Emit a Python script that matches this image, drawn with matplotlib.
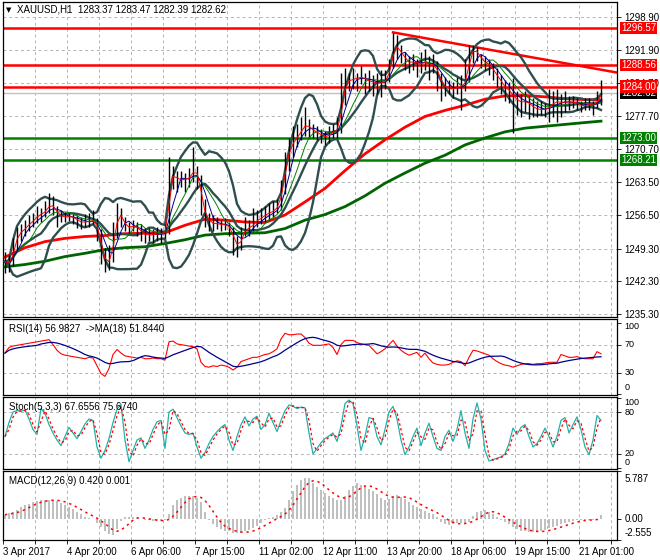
import numpy as np
import pandas as pd
import matplotlib
matplotlib.use('Agg')
import matplotlib.pyplot as plt
import matplotlib.transforms as mtransforms

plt.rcParams['font.family'] = ['Liberation Sans', 'DejaVu Sans']
plt.rcParams['font.size'] = 7

# ---- data (one entry ~ 2 bars) ----
close = [1246.5, 1245.8, 1250.0, 1252.5, 1253.0, 1254.0, 1254.8, 1255.5, 1256.5, 1256.8,
         1257.5, 1259.0, 1258.0, 1256.5, 1256.2, 1256.0, 1256.3, 1255.8, 1255.3, 1254.8,
         1255.2, 1255.0, 1255.5, 1253.0, 1248.5, 1246.0, 1247.0, 1252.0, 1257.5, 1255.5,
         1254.0, 1253.8, 1254.3, 1253.5, 1252.8, 1252.0, 1252.5, 1252.0, 1252.8, 1252.3,
         1253.0, 1264.0, 1265.5, 1263.5, 1264.5, 1263.8, 1265.0, 1266.0, 1265.0, 1258.5,
         1256.0, 1255.0, 1254.5, 1254.8, 1254.2, 1254.6, 1253.5, 1251.0, 1249.5, 1252.0,
         1254.0, 1253.5, 1255.0, 1255.5, 1256.0, 1256.8, 1257.0, 1257.5, 1258.5, 1262.0,
         1268.0, 1271.0, 1272.5, 1273.5, 1275.0, 1276.0, 1275.0, 1274.5, 1274.0, 1273.5,
         1273.0, 1274.0, 1274.5, 1275.0, 1281.0, 1285.5, 1285.0, 1286.0, 1285.5, 1286.5,
         1285.0, 1285.5, 1284.5, 1285.0, 1284.5, 1285.5, 1288.0, 1293.0, 1292.0, 1291.0,
         1289.5, 1289.0, 1289.5, 1288.8, 1289.0, 1289.3, 1288.5, 1289.0, 1286.5, 1284.5,
         1283.5, 1284.0, 1283.0, 1284.5, 1283.5, 1286.0, 1291.0, 1292.0, 1291.0, 1289.5,
         1289.0, 1288.5, 1287.0, 1286.0, 1284.5, 1283.5, 1283.0, 1281.5, 1281.0, 1280.5,
         1281.0, 1280.0, 1279.5, 1279.0, 1279.2, 1279.0, 1280.0, 1280.5, 1281.0, 1280.3,
         1281.0, 1280.5, 1280.8, 1280.2, 1279.8, 1280.0, 1280.3, 1279.8, 1281.5, 1282.62]
high = [1248.5, 1248.0, 1251.5, 1254.0, 1254.5, 1255.5, 1256.5, 1257.0, 1258.5, 1258.0,
        1259.5, 1261.2, 1260.5, 1258.5, 1257.5, 1257.2, 1257.0, 1256.8, 1256.5, 1256.0,
        1256.8, 1257.0, 1257.5, 1255.8, 1253.5, 1249.5, 1250.0, 1255.0, 1259.0, 1258.0,
        1256.0, 1255.0, 1255.5, 1255.0, 1254.5, 1253.8, 1253.8, 1253.5, 1254.0, 1253.8,
        1254.5, 1268.9, 1267.0, 1266.0, 1266.0, 1265.5, 1266.5, 1271.0, 1267.0, 1265.0,
        1260.0, 1257.0, 1256.5, 1256.0, 1255.5, 1255.8, 1255.0, 1254.0, 1252.0, 1254.0,
        1256.0, 1255.5, 1258.0, 1257.5, 1258.0, 1258.5, 1259.0, 1259.5, 1260.0, 1264.0,
        1270.0, 1273.0, 1275.5, 1276.0, 1277.5, 1279.6, 1277.0, 1276.0, 1275.5, 1275.0,
        1274.5, 1275.5, 1276.0, 1277.5, 1286.9, 1288.0, 1287.0, 1288.0, 1287.0, 1288.5,
        1287.0, 1287.5, 1286.5, 1287.0, 1287.5, 1287.5, 1290.0, 1295.5, 1295.0, 1293.0,
        1291.5, 1290.5, 1291.0, 1290.0, 1291.5, 1292.0, 1290.5, 1291.0, 1289.5, 1287.0,
        1286.0, 1285.5, 1285.0, 1286.0, 1286.5, 1290.0, 1292.9, 1292.8, 1292.5, 1291.0,
        1290.5, 1290.0, 1289.0, 1288.0, 1286.5, 1285.5, 1285.0, 1285.8, 1283.0, 1282.5,
        1283.0, 1282.0, 1281.5, 1281.0, 1281.0, 1280.5, 1283.5, 1283.0, 1283.5, 1282.5,
        1283.0, 1282.0, 1282.0, 1281.5, 1281.0, 1281.5, 1281.5, 1281.0, 1283.0, 1285.4]
low = [1244.0, 1244.2, 1245.5, 1249.0, 1251.0, 1252.0, 1253.0, 1254.0, 1254.8, 1255.0,
       1256.0, 1257.0, 1256.5, 1254.0, 1255.0, 1255.0, 1255.2, 1254.5, 1253.8, 1253.5,
       1254.0, 1254.0, 1254.5, 1251.0, 1246.0, 1244.3, 1244.8, 1246.5, 1251.5, 1254.0,
       1253.0, 1252.5, 1253.0, 1252.0, 1251.0, 1250.5, 1251.0, 1250.5, 1251.0, 1250.5,
       1251.5, 1252.5, 1262.0, 1261.5, 1262.5, 1261.5, 1262.5, 1263.5, 1262.0, 1256.5,
       1254.0, 1253.0, 1253.0, 1253.5, 1253.0, 1253.2, 1252.0, 1248.0, 1247.5, 1249.0,
       1252.0, 1252.0, 1253.0, 1254.0, 1254.5, 1255.0, 1255.5, 1256.0, 1257.0, 1257.5,
       1261.0, 1266.0, 1269.0, 1271.0, 1272.5, 1273.5, 1273.0, 1273.0, 1272.5, 1272.0,
       1271.5, 1272.0, 1273.0, 1273.0, 1274.0, 1280.0, 1283.0, 1283.5, 1283.0, 1284.5,
       1282.5, 1283.0, 1282.0, 1282.5, 1281.8, 1283.5, 1285.0, 1288.0, 1290.0, 1289.0,
       1287.5, 1287.0, 1287.5, 1286.0, 1287.0, 1287.5, 1285.5, 1287.0, 1283.0, 1281.0,
       1282.0, 1282.5, 1281.5, 1282.5, 1279.0, 1283.0, 1285.0, 1289.0, 1289.5, 1288.0,
       1287.5, 1286.5, 1285.5, 1284.0, 1282.5, 1281.0, 1280.5, 1274.1, 1278.0, 1277.5,
       1278.5, 1277.0, 1277.5, 1277.5, 1278.0, 1277.5, 1276.5, 1277.5, 1276.5, 1277.5,
       1278.5, 1279.0, 1279.5, 1279.0, 1278.5, 1279.0, 1279.0, 1278.0, 1279.5, 1280.0]

# slow moving averages, sampled every 5 entries
slow_idx = [0, 5, 10, 15, 20, 25, 30, 35, 40, 45, 50, 55, 60, 65, 70, 75,
            80, 85, 90, 95, 100, 105, 110, 115, 120, 125, 130, 135, 140, 145, 149]
ma_red_slow = [1247.5, 1249.5, 1250.8, 1251.5, 1251.9, 1252.1, 1252.5, 1252.6, 1252.7,
               1254.3, 1255.6, 1255.4, 1255.0, 1254.9, 1256.5, 1259.3, 1262.2, 1266.0,
               1269.6, 1272.6, 1275.3, 1277.6, 1278.9, 1280.0, 1281.3, 1282.0, 1282.1,
               1281.8, 1281.4, 1281.2, 1281.1]
ma_green_slow = [1245.4, 1245.9, 1246.6, 1247.6, 1248.3, 1249.1, 1249.5, 1249.7, 1250.4,
                 1251.2, 1252.2, 1252.5, 1252.6, 1252.7, 1253.6, 1255.4, 1256.6, 1258.3,
                 1260.6, 1263.3, 1265.5, 1267.6, 1269.3, 1271.5, 1273.0, 1274.3, 1275.1,
                 1275.5, 1275.9, 1276.3, 1276.6]

rsi = [58, 66, 68, 69, 70, 71, 72, 73, 74, 75, 76, 77, 70, 62, 57, 55, 54, 53, 52, 51,
       50, 52, 51, 40, 29, 25, 36, 56, 63, 58, 54, 53, 52, 51, 52, 50, 50, 51, 50, 50,
       48, 74, 75, 71, 70, 69, 68, 67, 64, 45, 39, 38, 40, 39, 41, 40, 38, 34, 38, 46,
       48, 50, 52, 52, 54, 56, 57, 60, 64, 78, 86, 84, 84, 85, 85, 80, 72, 69, 69, 69,
       70, 71, 66, 56, 70, 76, 76, 76, 73, 71, 70, 69, 63, 57, 60, 64, 70, 76, 68, 62,
       58, 55, 57, 59, 52, 58, 50, 44, 42, 41, 41, 42, 45, 47, 46, 40, 52, 62, 61, 59,
       57, 55, 50, 46, 43, 41, 40, 38, 40, 42, 43, 43, 42, 43, 43, 44, 45, 45, 45, 56,
       54, 52, 52, 53, 51, 50, 50, 50, 60, 57]

stoch_k = [45, 65, 80, 82, 81, 83, 70, 55, 48, 85, 78, 62, 50, 40, 32, 45, 58, 50, 42, 52,
           63, 70, 68, 30, 14, 25, 42, 65, 84, 91, 40, 9, 25, 40, 43, 28, 40, 55, 66, 68,
           28, 80, 84, 72, 60, 50, 48, 50, 30, 14, 22, 35, 45, 52, 58, 62, 40, 25, 45, 62,
           73, 60, 70, 74, 55, 62, 78, 65, 52, 68, 82, 90, 88, 85, 87, 86, 50, 20, 28, 36,
           42, 46, 50, 38, 60, 92, 97, 92, 60, 25, 45, 72, 70, 45, 33, 55, 80, 88, 70, 40,
           19, 30, 45, 57, 32, 50, 64, 45, 28, 25, 45, 54, 38, 55, 82, 50, 28, 70, 93, 70,
           25, 10, 12, 14, 16, 20, 35, 57, 48, 58, 62, 45, 30, 35, 45, 57, 45, 30, 45, 68,
           72, 50, 62, 73, 55, 30, 19, 40, 75, 68]

macd = [0.5, 0.66, 0.83, 1.08, 1.41, 1.66, 1.83, 2.08, 2.16, 2.24, 2.28, 2.32, 2.24, 2.16,
        1.91, 1.66, 1.41, 1.16, 0.83, 0.58, 0.25, 0.08, 0.0, -0.5, -1.0, -1.49, -1.83, -1.91,
        -1.25, -0.25, 0.25, 0.25, 0.17, 0.08, 0.0, -0.08, -0.17, -0.25, -0.25, -0.25, -0.17,
        0.58, 1.66, 2.32, 2.57, 2.74, 2.82, 2.82, 2.57, 1.99, 0.83, -0.08, -0.66, -1.0, -1.25,
        -1.41, -1.49, -1.66, -1.74, -1.66, -1.49, -1.33, -1.16, -0.83, -0.5, -0.17, 0.08, 0.25,
        0.42, 0.83, 1.33, 2.32, 3.32, 4.15, 4.65, 4.98, 4.9, 4.32, 3.9, 3.49, 3.07, 2.74, 2.49,
        2.24, 2.32, 2.82, 3.49, 3.98, 4.32, 4.15, 3.9, 3.65, 3.32, 2.99, 2.57, 2.32, 2.41, 2.82,
        2.91, 2.66, 2.41, 1.99, 1.66, 1.41, 1.16, 1.0, 0.75, 0.58, 0.25, -0.33, -0.66, -0.75,
        -0.58, -0.5, -0.5, -0.5, -0.33, 0.33, 0.83, 1.0, 1.08, 0.83, 0.58, 0.17, -0.17, -0.42,
        -0.66, -1.0, -1.25, -1.41, -1.49, -1.58, -1.58, -1.54, -1.45, -1.33, -1.16, -1.0, -0.83,
        -0.66, -0.5, -0.37, -0.25, -0.17, -0.12, -0.12, -0.12, -0.08, 0.0, 0.42]

trend_idx = [97, 153]
trend_price = [1295.6, 1287.0]
red_levels = [1296.57, 1288.56, 1284.00]
green_levels = [1273.00, 1268.21]
last_price = 1282.62
price_ticks = [1298.90, 1291.90, 1284.70, 1277.70, 1270.70, 1263.50, 1256.50, 1249.30, 1242.30, 1235.30]
date_labels = ['3 Apr 2017', '4 Apr 20:00', '6 Apr 06:00', '7 Apr 15:00', '11 Apr 02:00',
               '12 Apr 11:00', '13 Apr 20:00', '18 Apr 06:00', '19 Apr 15:00', '21 Apr 01:00']

# ---- indicators from the price series ----
s = pd.Series(close)
ma_fast_red = s.rolling(2, min_periods=1).mean()
ma_fast_blue = s.rolling(4, min_periods=1).mean()
ma_fast_green = s.rolling(7, min_periods=1).mean()
bb_mid = s.rolling(10, min_periods=1).mean()
bb_std = s.rolling(10, min_periods=1).std(ddof=0)
bb_up = bb_mid + 2 * bb_std
bb_lo = bb_mid - 2 * bb_std
rsi_ma = pd.Series(rsi).rolling(9, min_periods=1).mean()
stoch_d = pd.Series(stoch_k).rolling(2, min_periods=1).mean()
macd_sig = pd.Series(macd).rolling(5, min_periods=1).mean()

idx = np.arange(len(close))
grid_x = np.arange(-0.4, 153, 8)

W, H = 660, 560
fig = plt.figure(figsize=(W / 100, H / 100), dpi=100)
fig.patch.set_facecolor('white')


def panel(top, bottom):
    a = fig.add_axes([3 / W, (H - bottom) / H, 614 / W, (bottom - top) / H])
    a.set_xlim(-0.5, 153)
    for sp in a.spines.values():
        sp.set_color('black')
        sp.set_linewidth(0.9)
    a.yaxis.tick_right()
    a.tick_params(axis='y', length=3, width=0.6, pad=2, labelsize=7)
    a.tick_params(axis='x', length=0, labelbottom=False)
    for g in grid_x:
        a.axvline(g, color='#b4b4b4', ls=(0, (3, 3)), lw=0.7, zorder=0)
    return a


gray = '#b4b4b4'
slate = '#2f4f4f'

# ---- main price panel ----
ax = panel(2, 317)
ax.set_ylim(1234.66, 1302.11)
ax.set_yticks(price_ticks)
ax.set_yticklabels(['%.2f' % v for v in price_ticks])
for v in price_ticks:
    ax.axhline(v, color=gray, ls=(0, (3, 3)), lw=0.7, zorder=0)
ax.axhline(last_price, color='#c0c0c0', lw=1.0, zorder=1)
for v in red_levels:
    ax.axhline(v, color='#ff0000', lw=1.8, zorder=2)
for v in green_levels:
    ax.axhline(v, color='#008000', lw=1.8, zorder=2)
ax.plot(trend_idx, trend_price, color='#ff0000', lw=1.8, zorder=2)

ax.plot(slow_idx, ma_green_slow, color='#006400', lw=2.0, zorder=3)
ax.plot(slow_idx, ma_red_slow, color='#ff0000', lw=2.0, zorder=3)
for band in (bb_up, bb_mid, bb_lo):
    ax.plot(idx, band, color=slate, lw=1.7, zorder=3)
ax.vlines(idx, low, high, color='black', lw=1.0, zorder=4)
ax.plot(idx, ma_fast_green, color='#008000', lw=0.7, zorder=5)
ax.plot(idx, ma_fast_blue, color='#00008b', lw=0.7, zorder=5)
ax.plot(idx, ma_fast_red, color='#ff0000', lw=0.7, zorder=5)

# price tags on the right scale (figure level so they sit above the tick labels)
tr = mtransforms.blended_transform_factory(fig.transFigure, ax.transData)
boxes = [(last_price, '#000000'), (1296.57, '#ff0000'), (1288.56, '#ff0000'), (1284.00, '#ff0000'),
         (1273.00, '#008000'), (1268.21, '#008000')]
for k, (v, c) in enumerate(boxes):
    fig.text(621 / W, v, '%.2f' % v, transform=tr, ha='left', va='center', color='white',
             fontsize=7, zorder=10 + k,
             bbox=dict(boxstyle='square,pad=0.12', fc=c, ec='none'))

fig.text(6 / W, 1 - 10 / H, '\u25bc', fontsize=5, va='center', family=['DejaVu Sans'])
fig.text(17 / W, 1 - 10 / H, 'XAUUSD,H1  1283.37 1283.47 1282.39 1282.62', va='center', fontsize=7)

# ---- RSI ----
ar = panel(319, 395)
ar.set_ylim(-1.4, 106.3)
ar.set_yticks([100, 70, 30, 0])
ar.set_yticklabels(['', '', '', ''])
for v in (70, 30):
    ar.axhline(v, color=gray, ls=(0, (3, 3)), lw=0.7, zorder=0)
ar.plot(idx, rsi, color='#ff0000', lw=0.8)
ar.plot(idx, rsi_ma, color='#00008b', lw=0.9)
trr = mtransforms.blended_transform_factory(ar.transAxes, ar.transData)
for txt, v in (('100', 96), ('70', 70), ('30', 30), ('0', 9)):
    ar.text(1.012, v, txt, transform=trr, ha='left', va='center', fontsize=6.5, clip_on=False)
ar.text(0.01, 0.87, 'RSI(14) 56.9827  ->MA(18) 51.8440', transform=ar.transAxes, fontsize=7, va='center')

# ---- Stochastic ----
ast = panel(397, 469)
ast.set_ylim(-1.4, 101.4)
ast.set_yticks([100, 80, 20, 0])
ast.set_yticklabels(['', '', '', ''])
for v in (80, 20):
    ast.axhline(v, color=gray, ls=(0, (3, 3)), lw=0.7, zorder=0)
ast.plot(idx, stoch_k, color='#20b2aa', lw=0.9)
ast.plot(idx, stoch_d, color='#ff0000', lw=0.9, ls=(0, (2, 2)))
trs = mtransforms.blended_transform_factory(ast.transAxes, ast.transData)
for txt, v in (('100', 93), ('80', 79), ('20', 21), ('0', 8)):
    ast.text(1.012, v, txt, transform=trs, ha='left', va='center', fontsize=6.5, clip_on=False)
ast.text(0.01, 0.86, 'Stoch(5,3,3) 67.6556 75.6740', transform=ast.transAxes, fontsize=7, va='center')

# ---- MACD ----
am = panel(471, 540)
am.set_ylim(-2.555, 5.787)
am.set_yticks([5.787, 0, -2.555])
am.set_yticklabels(['', '', ''])
am.bar(idx, macd, width=0.45, color='#c0c0c0', zorder=2)
am.plot(idx, macd_sig, color='#ff0000', lw=1.1, ls=(0, (1.5, 2.5)), zorder=3)
trm = mtransforms.blended_transform_factory(am.transAxes, am.transData)
for txt, v in (('5.787', 4.8), ('0.00', 0.0), ('-2.555', -1.7)):
    am.text(1.012, v, txt, transform=trm, ha='left', va='center', fontsize=7, clip_on=False)
am.text(0.01, 0.85, 'MACD(12,26,9) 0.420 0.001', transform=am.transAxes, fontsize=7, va='center')

am.set_xticks(grid_x)
am.set_xticklabels([date_labels[k // 2] if k % 2 == 0 else '' for k in range(len(grid_x))])
am.tick_params(axis='x', length=3, width=0.6, pad=2, labelbottom=True, labelsize=7)
for lab in am.get_xticklabels():
    lab.set_ha('left')

fig.savefig('out.png', dpi=100, facecolor='white')
